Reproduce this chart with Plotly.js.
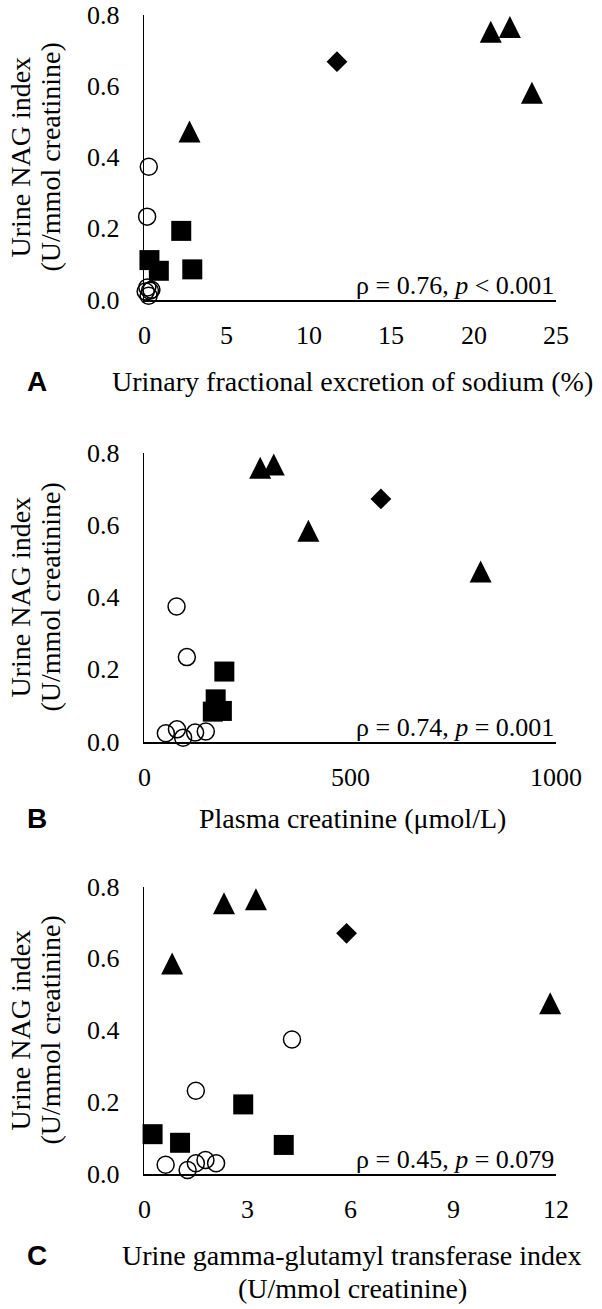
<!DOCTYPE html>
<html>
<head>
<meta charset="utf-8">
<script src="https://cdn.plot.ly/plotly-3.0.1.min.js"></script>
<style>
html, body { margin: 0; padding: 0; background: #fff; }
#chart { width: 602px; height: 1309px; }
</style>
</head>
<body>
<div id="chart"></div>
<script>
// shared y: urine NAG index (U/mmol creatinine)
var yTicks = [0, 0.2, 0.4, 0.6, 0.8];
var yTickText = ['0.0', '0.2', '0.4', '0.6', '0.8'];

// A: urinary fractional excretion of sodium (%)
var aTicks = [0, 5, 10, 15, 20, 25];
var aCircleX = [0.29, 0.19, 0.10, 0.20, 0.28, 0.36, 0.45];
var aCircleY = [0.374, 0.234, 0.024, 0.035, 0.012, 0.026, 0.029];
var aSquareX = [2.26, 0.33, 0.90, 2.93];
var aSquareY = [0.194, 0.112, 0.082, 0.086];
var aTriangleX = [21.04, 22.2, 23.54, 2.76];
var aTriangleY = [0.753, 0.766, 0.582, 0.473];
var aDiamondX = [11.71];
var aDiamondY = [0.669];

// B: plasma creatinine (umol/L)
var bTicks = [0, 500, 1000];
var bCircleX = [79, 104, 53, 80, 95, 124, 150];
var bCircleY = [0.375, 0.235, 0.024, 0.035, 0.012, 0.026, 0.029];
var bSquareX = [195, 174, 167, 189];
var bSquareY = [0.195, 0.118, 0.084, 0.086];
var bTriangleX = [282, 315, 399, 817];
var bTriangleY = [0.759, 0.768, 0.585, 0.472];
var bDiamondX = [575];
var bDiamondY = [0.673];

// C: urine gamma-glutamyl transferase index (U/mmol creatinine)
var cTicks = [0, 3, 6, 9, 12];
var cCircleX = [4.31, 1.51, 0.63, 1.27, 1.51, 1.79, 2.10];
var cCircleY = [0.375, 0.232, 0.026, 0.011, 0.030, 0.039, 0.030];
var cSquareX = [0.25, 1.05, 2.89, 4.07];
var cSquareY = [0.111, 0.087, 0.194, 0.081];
var cTriangleX = [0.82, 2.33, 3.26, 11.83];
var cTriangleY = [0.587, 0.755, 0.766, 0.476];
var cDiamondX = [5.90];
var cDiamondY = [0.671];

var W = 602, H = 1309;
function px(x) { return x / W; }
function py(y) { return 1 - y / H; }

var serif = 'Liberation Serif, Times New Roman, serif';
var sans = 'Liberation Sans, Arial, sans-serif';

var traces = [];
function addGroup(n, xs, ys, marker) {
    traces.push({
        x: xs,
        y: ys,
        xaxis: 'x' + n,
        yaxis: 'y' + n,
        type: 'scatter',
        mode: 'markers',
        cliponaxis: false,
        hoverinfo: 'skip',
        marker: marker
    });
}
var circle = {symbol: 'circle-open', size: 17, color: 'black', line: {width: 1.5}};
var square = {symbol: 'square', size: 20, color: 'black'};
// arrow-down turned over: an upright triangle centred on its point
var triangle = {symbol: 'arrow-down', angle: 180, standoff: 11, size: 22, color: 'black', line: {width: 0}};
var diamond = {symbol: 'diamond', size: 16, color: 'black'};

function addPanel(n, cx, cy, sx, sy, tx, ty, dx, dy) {
    addGroup(n, cx, cy, circle);
    addGroup(n, sx, sy, square);
    addGroup(n, tx, ty, triangle);
    addGroup(n, dx, dy, diamond);
}
addPanel('', aCircleX, aCircleY, aSquareX, aSquareY, aTriangleX, aTriangleY, aDiamondX, aDiamondY);
addPanel('2', bCircleX, bCircleY, bSquareX, bSquareY, bTriangleX, bTriangleY, bDiamondX, bDiamondY);
addPanel('3', cCircleX, cCircleY, cSquareX, cSquareY, cTriangleX, cTriangleY, cDiamondX, cDiamondY);

function xAxis(anchor, ticks) {
    return {
        domain: [px(144), px(556)],
        anchor: anchor,
        range: [0, ticks[ticks.length - 1]],
        showticklabels: false,
        ticks: '',
        showgrid: false,
        zeroline: false,
        showline: true,
        linecolor: 'black',
        linewidth: 1.5,
        fixedrange: true
    };
}
function yAxis(anchor, top, bottom) {
    return {
        domain: [py(bottom), py(top)],
        anchor: anchor,
        range: [0, 0.8],
        showticklabels: false,
        ticks: '',
        showgrid: false,
        zeroline: false,
        showline: true,
        linecolor: 'black',
        linewidth: 1.5,
        fixedrange: true
    };
}

var panels = [
    {n: '', top: 15, bottom: 300, ticks: aTicks, letter: 'A', titleY: [381],
     title: ['Urinary fractional excretion of sodium (%)'],
     stat: '\u03c1 = 0.76, <i>p</i> &lt; 0.001'},
    {n: '2', top: 453, bottom: 742, ticks: bTicks, letter: 'B', titleY: [818],
     title: ['Plasma creatinine (\u03bcmol/L)'],
     stat: '\u03c1 = 0.74, <i>p</i> = 0.001'},
    {n: '3', top: 887, bottom: 1174, ticks: cTicks, letter: 'C', titleY: [1255, 1288],
     title: ['Urine gamma-glutamyl transferase index', '(U/mmol creatinine)'],
     stat: '\u03c1 = 0.45, <i>p</i> = 0.079'}
];

var annotations = [];
function note(text, x, y, size, family, opts) {
    var a = {
        text: text, xref: 'paper', yref: 'paper', x: px(x), y: py(y),
        xanchor: 'center', yanchor: 'middle', showarrow: false,
        font: {family: family, size: size, color: 'black'}
    };
    for (var k in opts) a[k] = opts[k];
    annotations.push(a);
}
panels.forEach(function (p) {
    var mid = (p.top + p.bottom) / 2;
    // tick labels, placed through the panel's own axes
    p.ticks.forEach(function (t) {
        note(String(t), 0, p.bottom + 35, 26, serif, {xref: 'x' + p.n, x: t});
    });
    yTicks.forEach(function (t, i) {
        note(yTickText[i], 122, 0, 26, serif, {yref: 'y' + p.n, y: t, xanchor: 'right'});
    });
    note('<b>' + p.letter + '</b>', 37, p.titleY[0], 28, sans);
    p.title.forEach(function (t, i) { note(t, 352, p.titleY[i], 28, serif); });
    note('Urine NAG index', 20, mid, 28, serif, {textangle: -90});
    note('(U/mmol creatinine)', 50, mid, 28, serif, {textangle: -90});
    note(p.stat, 556, p.bottom - 15, 26, serif, {xanchor: 'right'});
});

var layout = {
    width: W,
    height: H,
    margin: {l: 0, r: 0, t: 0, b: 0},
    font: {family: serif, size: 26, color: 'black'},
    paper_bgcolor: 'white',
    plot_bgcolor: 'white',
    showlegend: false,
    xaxis: xAxis('y', aTicks),
    yaxis: yAxis('x', panels[0].top, panels[0].bottom),
    xaxis2: xAxis('y2', bTicks),
    yaxis2: yAxis('x2', panels[1].top, panels[1].bottom),
    xaxis3: xAxis('y3', cTicks),
    yaxis3: yAxis('x3', panels[2].top, panels[2].bottom),
    annotations: annotations,
    shapes: [
        // small break in the x axis line of panel A
        {type: 'line', xref: 'x', yref: 'y', x0: 7.75, x1: 7.95, y0: 0, y1: 0,
         line: {color: 'white', width: 4}, layer: 'above'}
    ]
};

Plotly.newPlot('chart', traces, layout, {displayModeBar: false, staticPlot: true});
</script>
</body>
</html>
